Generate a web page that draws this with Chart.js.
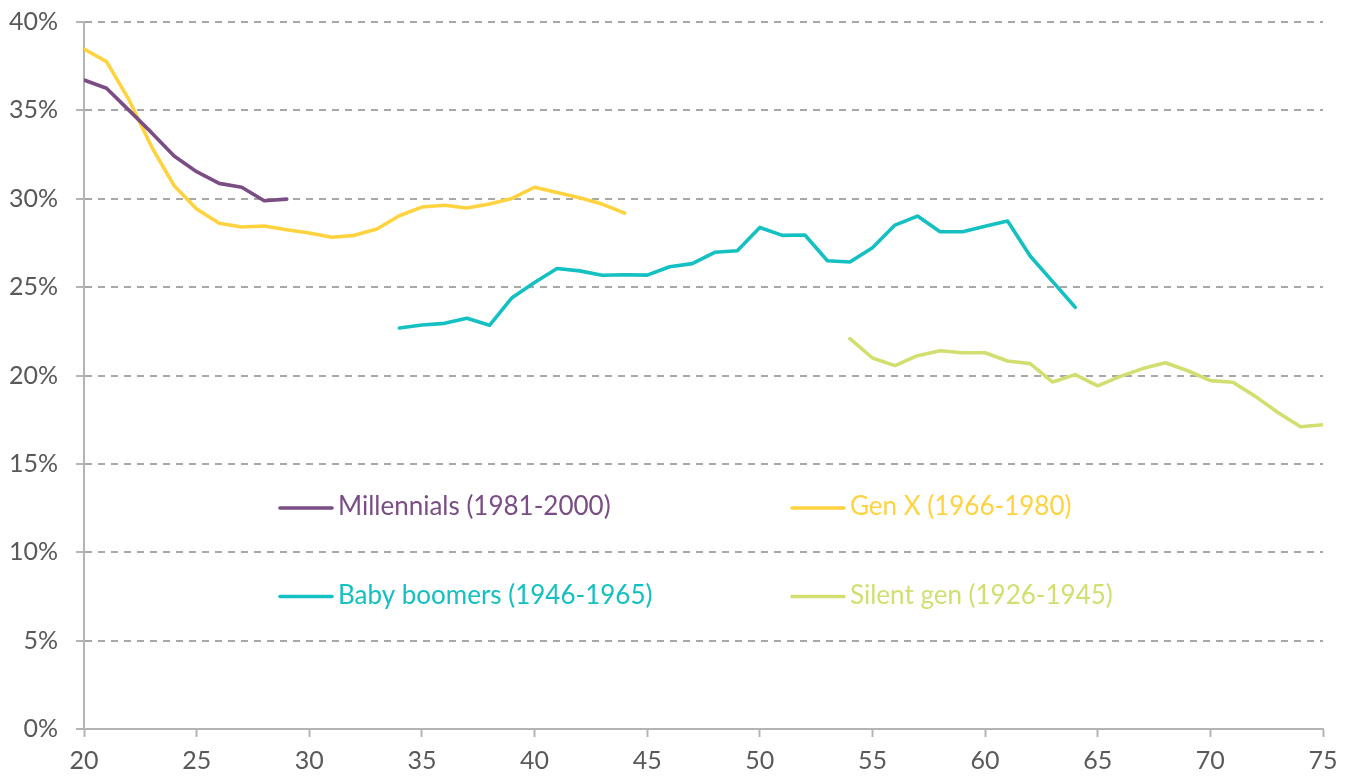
<!DOCTYPE html>
<html>
<head>
<meta charset="utf-8">
<script src="https://cdn.jsdelivr.net/npm/chart.js@4/dist/chart.umd.min.js"></script>
<style>
  html, body { margin: 0; padding: 0; background: #ffffff; }
  #wrap { position: relative; width: 1351px; height: 776px; }
</style>
</head>
<body>
<div id="wrap"><canvas id="c" width="1351" height="776"></canvas></div>
<script>
// ---- Data ----
const seriesNames = ["Millennials (1981-2000)", "Gen X (1966-1980)", "Baby boomers (1946-1965)", "Silent gen (1926-1945)"];
const seriesColors = ["#7a4d85", "#ffd33f", "#14c0c1", "#d2df70"];

const millennialsAges = [20, 21, 22, 23, 24, 25, 26, 27, 28, 29];
const millennialsValues = [36.72, 36.25, 35.0, 33.74, 32.42, 31.53, 30.87, 30.65, 29.89, 29.98];

const genXAges = [20, 21, 22, 23, 24, 25, 26, 27, 28, 29, 30, 31, 32, 33, 34, 35, 36, 37, 38, 39, 40, 41, 42, 43, 44];
const genXValues = [38.47, 37.76, 35.59, 32.94, 30.74, 29.42, 28.61, 28.40, 28.46, 28.25, 28.06, 27.82, 27.93, 28.29, 29.04, 29.53, 29.63, 29.48, 29.70, 30.02, 30.65, 30.35, 30.06, 29.70, 29.19];

const boomersAges = [34, 35, 36, 37, 38, 39, 40, 41, 42, 43, 44, 45, 46, 47, 48, 49, 50, 51, 52, 53, 54, 55, 56, 57, 58, 59, 60, 61, 62, 63, 64];
const boomersValues = [22.69, 22.86, 22.95, 23.24, 22.84, 24.40, 25.26, 26.05, 25.92, 25.67, 25.70, 25.68, 26.15, 26.33, 26.97, 27.06, 28.37, 27.93, 27.95, 26.49, 26.42, 27.23, 28.51, 29.02, 28.13, 28.13, 28.44, 28.74, 26.76, 25.31, 23.86];

const silentAges = [54, 55, 56, 57, 58, 59, 60, 61, 62, 63, 64, 65, 66, 67, 68, 69, 70, 71, 72, 73, 74, 75];
const silentValues = [22.08, 20.99, 20.56, 21.12, 21.40, 21.29, 21.29, 20.82, 20.67, 19.63, 20.05, 19.41, 19.95, 20.39, 20.72, 20.27, 19.71, 19.62, 18.82, 17.91, 17.10, 17.21];

const xTicks = [20, 25, 30, 35, 40, 45, 50, 55, 60, 65, 70, 75];
const yTicks = [0, 5, 10, 15, 20, 25, 30, 35, 40];

// ---- Build datasets ----
function pts(ages, vals) { return ages.map((a, i) => ({ x: a, y: vals[i] })); }
const allSeries = [
  pts(millennialsAges, millennialsValues),
  pts(genXAges, genXValues),
  pts(boomersAges, boomersValues),
  pts(silentAges, silentValues)
];
const datasets = allSeries.map((d, i) => ({
  label: seriesNames[i],
  data: d,
  borderColor: seriesColors[i],
  backgroundColor: seriesColors[i],
  borderWidth: 3.6,
  pointRadius: 0,
  pointHoverRadius: 0,
  tension: 0,
  fill: false,
  borderCapStyle: 'round',
  borderJoinStyle: 'round'
}));

const FONT = "Lato, 'Noto Sans', sans-serif";
const GRID = '#a8a8a8';
const AXIS = '#b4b4b4';

// Custom in-chart legend (2 x 2 grid)
const legendPlugin = {
  id: 'gridLegend',
  afterDatasetsDraw(chart) {
    const { ctx, chartArea, scales } = chart;
    const cols = [chartArea.left + 196, chartArea.left + 708];
    const rows = [scales.y.getPixelForValue(12.5), scales.y.getPixelForValue(7.5)];
    ctx.save();
    ctx.font = "26px " + FONT;
    ctx.textBaseline = 'middle';
    ctx.textAlign = 'left';
    ctx.lineCap = 'round';
    seriesNames.forEach((name, i) => {
      const x = cols[i % 2];
      const y = rows[Math.floor(i / 2)];
      ctx.strokeStyle = seriesColors[i];
      ctx.lineWidth = 3.6;
      ctx.beginPath();
      ctx.moveTo(x, y);
      ctx.lineTo(x + 52, y);
      ctx.stroke();
      ctx.fillStyle = seriesColors[i];
      ctx.fillText(name, x + 58, y - 1);
    });
    ctx.restore();
  }
};

new Chart(document.getElementById('c'), {
  type: 'line',
  data: { datasets },
  plugins: [legendPlugin],
  options: {
    responsive: false,
    animation: false,
    devicePixelRatio: 1,
    layout: { padding: { top: 22, right: 28, bottom: 0, left: 0 } },
    plugins: {
      legend: { display: false },
      tooltip: { enabled: false }
    },
    scales: {
      x: {
        type: 'linear',
        min: 20,
        max: 75,
        afterBuildTicks: (s) => { s.ticks = xTicks.map(v => ({ value: v })); },
        afterFit: (s) => { s.height = 47; },
        ticks: {
          color: '#595959',
          font: { family: FONT, size: 25 },
          padding: 9,
          maxRotation: 0,
          autoSkip: false
        },
        grid: {
          drawOnChartArea: false,
          drawTicks: true,
          tickLength: 8,
          tickColor: AXIS,
          tickWidth: 2,
          color: AXIS
        },
        border: { display: true, color: AXIS, width: 2 }
      },
      y: {
        min: 0,
        max: 40,
        afterBuildTicks: (s) => { s.ticks = yTicks.map(v => ({ value: v })); },
        afterFit: (s) => { s.width = 84; s.paddingTop = 0; s.paddingBottom = 0; },
        ticks: {
          color: '#595959',
          font: { family: FONT, size: 25 },
          padding: 18,
          callback: (v) => v + '%'
        },
        grid: {
          color: (c) => (c.tick && c.tick.value === 0) ? 'rgba(0,0,0,0)' : GRID,
          lineWidth: 2,
          drawTicks: true,
          tickLength: 8,
          tickColor: AXIS,
          tickWidth: 2,
          tickBorderDash: []
        },
        border: { display: true, color: AXIS, width: 2, dash: [7, 6] }
      }
    }
  }
});
</script>
</body>
</html>
